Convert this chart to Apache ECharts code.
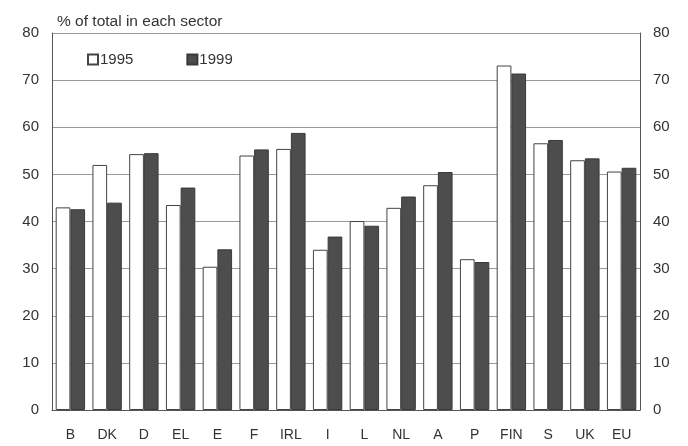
<!DOCTYPE html>
<html><head><meta charset="utf-8">
<script src="https://cdn.jsdelivr.net/npm/echarts@6/dist/echarts.min.js"></script>
<style>html,body{margin:0;padding:0;background:#fff}#c{width:688px;height:446px}</style>
</head><body><div id="c"></div>
<script>
var categories = ['B','DK','D','EL','E','F','IRL','I','L','NL','A','P','FIN','S','UK','EU'];
var values1995 = [43.0,52.0,54.3,43.5,30.4,54.0,55.4,34.0,40.1,42.9,47.7,32.0,73.1,56.6,53.0,50.6];
var values1999 = [42.6,44.0,54.5,47.2,34.1,55.3,58.8,36.8,39.1,45.3,50.5,31.4,71.4,57.3,53.4,51.4];
var yTicks = [0,10,20,30,40,50,60,70,80];
var font = '"Liberation Sans", Arial, sans-serif';
var chart = echarts.init(document.getElementById('c'));
var yBase = {
  type:'value', min:yTicks[0], max:yTicks[yTicks.length-1], interval:10,
  axisLine:{show:true, lineStyle:{color:'#555', width:1}},
  axisTick:{show:false},
  axisLabel:{color:'#333', fontSize:15, fontFamily:font, margin:13}
};
chart.setOption({
  animation:false,
  backgroundColor:'#fff',
  title:{text:'% of total in each sector', left:52, top:9,
    textStyle:{fontSize:15.5, fontWeight:'normal', color:'#333', fontFamily:font}},
  legend:{
    data:['1995','1999'], left:82, top:47, itemWidth:10, itemHeight:10, itemGap:53,
    textStyle:{fontSize:15, color:'#333', fontFamily:font, padding:[0,0,0,-3]},
    icon:'rect'
  },
  grid:{left:52, right:48, top:33, bottom:36},
  xAxis:{
    type:'category', data:categories,
    axisLine:{show:true, lineStyle:{color:'#555'}},
    axisTick:{show:false},
    axisLabel:{color:'#333', fontSize:14, fontFamily:font, margin:18, interval:0}
  },
  yAxis:[
    Object.assign({}, yBase, {position:'left', splitLine:{show:true, lineStyle:{color:'#999', width:1}}}),
    Object.assign({}, yBase, {position:'right', splitLine:{show:false}})
  ],
  series:[
    {name:'1995', type:'bar', data:values1995, barWidth:'40%', barGap:'0%',
     itemStyle:{color:'#fff', borderColor:'#444', borderWidth:1}},
    {name:'1999', type:'bar', data:values1999, barWidth:'40%', barGap:'0%',
     itemStyle:{color:'#4d4d4d', borderColor:'#3a3a3a', borderWidth:1}}
  ]
});
</script></body></html>
